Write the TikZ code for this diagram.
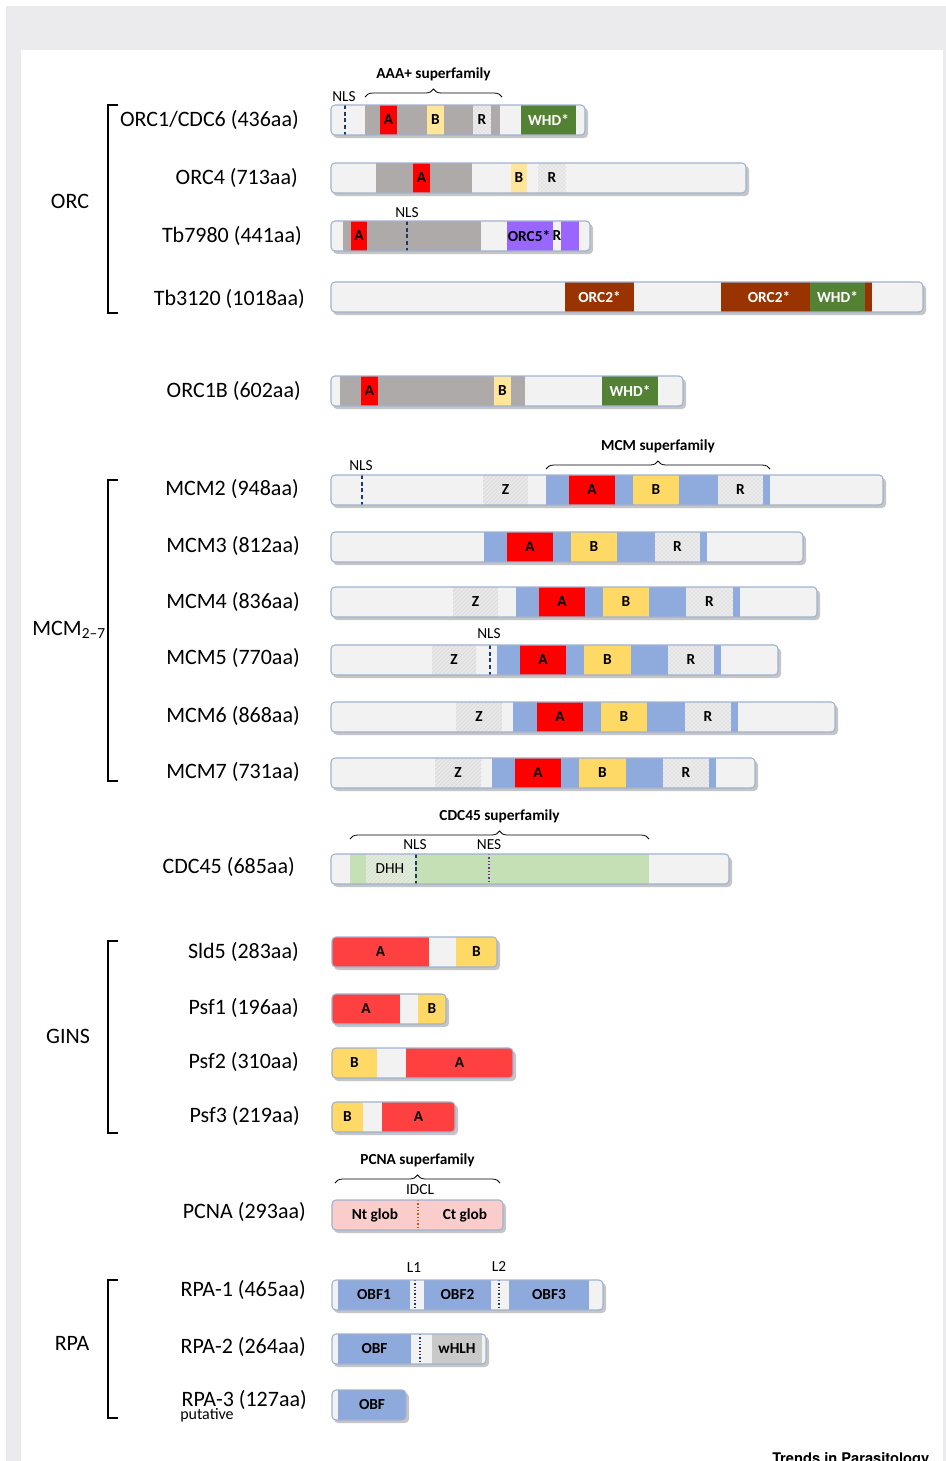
\documentclass[tikz,border=0pt]{standalone}
\usepackage{fontspec}
\setmainfont{Carlito}
\newfontfamily\herosfont{TeX Gyre Heros}
\usetikzlibrary{decorations.pathreplacing,patterns}

\definecolor{barfill}{RGB}{242,242,242}
\definecolor{barline}{RGB}{160,178,208}
\definecolor{aaagray}{RGB}{174,170,170}
\definecolor{motifA}{RGB}{255,0,0}
\definecolor{motifBl}{RGB}{255,230,153}
\definecolor{motifB}{RGB}{255,217,102}
\definecolor{whdgreen}{RGB}{84,130,53}
\definecolor{orctwo}{RGB}{153,51,0}
\definecolor{orcfive}{RGB}{153,102,255}
\definecolor{mcmblue}{RGB}{143,170,220}
\definecolor{ginsred}{RGB}{255,64,64}
\definecolor{cdcgreen}{RGB}{197,224,180}
\definecolor{pcnapink}{RGB}{250,204,204}
\definecolor{rpablue}{RGB}{142,169,219}
\definecolor{hlhgray}{RGB}{201,201,201}
\definecolor{nlsblue}{RGB}{31,56,100}
\definecolor{nespurple}{RGB}{112,48,160}
\definecolor{idclorange}{RGB}{197,90,17}
\definecolor{framegray}{RGB}{235,235,237}

\tikzset{
	plab/.style={anchor=east, inner sep=0pt, font=\fontsize{16.5}{19}\selectfont},
	glab/.style={inner sep=0pt, font=\fontsize{16.5}{19}\selectfont},
	dlab/.style={inner sep=0pt, font=\bfseries\fontsize{11.5}{13}\selectfont},
	slab/.style={inner sep=0pt, font=\fontsize{11.5}{13}\selectfont},
	nls/.style={nlsblue, line width=1.3pt, dash pattern=on 3pt off 2pt},
	nes/.style={nespurple, line width=1.2pt, dash pattern=on 1pt off 1.5pt},
	idcl/.style={idclorange, line width=1.2pt, dash pattern=on 1pt off 1.5pt},
	ldot/.style={nlsblue, line width=1.2pt, dash pattern=on 1pt off 1.5pt},
	rdom/.style={fill=black!8, postaction={pattern=crosshatch dots, pattern color=black!20}},
	zdom/.style={fill=black!9, postaction={pattern=north east lines, pattern color=black!15}},
	dhhdom/.style={fill=cdcgreen!55!white, postaction={pattern=north east lines, pattern color=black!15}}
}

% bar: (y:x1:x2){domains}
\def\protein(#1:#2:#3)#4{%
	\def\cy{#1}%
	\fill[black!45, opacity=.5, rounded corners=3pt] ({#2+2},{#1-12}) rectangle ({#3+3},{#1+18});
	\begin{scope}
		\clip[rounded corners=3pt] (#2,{#1-15}) rectangle (#3,{#1+15});
		\fill[barfill] (#2,{#1-15}) rectangle (#3,{#1+15});
		#4
	\end{scope}
	\draw[barline, line width=0.8pt, rounded corners=3pt] (#2,{#1-15}) rectangle (#3,{#1+15});
}
\def\dom[#1](#2:#3)#4{%
	\fill[#1] (#2,{\cy-15}) rectangle (#3,{\cy+15});
	\node[dlab] at ({(#2+#3)/2},\cy) {#4};
}
\def\dlab(#1)#2{\node[dlab] at (#1,\cy) {#2};}
\def\site(#1)[#2]{\draw[#2] (#1,{\cy-15}) -- (#1,{\cy+15});}
\def\bracket(#1:#2){\draw[line width=1.4pt] (118,#1) -- (108,#1) -- (108,#2) -- (118,#2);}
\def\superfam(#1:#2:#3)#4{%
	\draw[line width=0.6pt, decorate, decoration={brace, amplitude=6pt}] (#1,#3) -- (#2,#3);
	\node[dlab] at ({(#1+#2)/2},{#3-23}) {#4};
}

\begin{document}
\begin{tikzpicture}[x=0.75pt, y=-0.75pt]
	\useasboundingbox (0,0) rectangle (946,1461);
	\fill[framegray] (6,6) rectangle (946,1461);
	\fill[white] (21,50) rectangle (943,1461);
	
	%%%%% ORC %%%%%
	\bracket(105:313)
	\node[glab] (orc) at (70,201) {ORC};
	
	\superfam(365:502:97){AAA+ superfamily}
	\node[slab] (nls1) at (344,97) {NLS};
	\node[plab] (orc1) at (299,120) {ORC1/CDC6 (436aa)};
	\protein(120:331:585){
		\dom[aaagray](365:500){}
		\dom[motifA](380:397){A}
		\dom[motifBl](427:444){B}
		\dom[rdom](473:491){R}
		\dom[whdgreen](521:576){\textcolor{white}{WHD*}}
		\site(345)[nls]
	}
	
	\node[plab] (orc4) at (298,178) {ORC4 (713aa)};
	\protein(178:331:746){
		\dom[aaagray](376:472){}
		\dom[motifA](413:430){A}
		\dom[motifBl](511:527){B}
		\dom[rdom](538:566){R}
	}
	
	\node[slab] (nls2) at (407,213) {NLS};
	\node[plab] (tb7980) at (302,236) {Tb7980 (441aa)};
	\protein(236:331:590){
		\dom[aaagray](343:481){}
		\dom[motifA](351:367){A}
		\dom[orcfive](507:579){}
		\dom[barfill](553:561){R}
		\dlab(529){ORC5*}
		\site(407)[nls]
	}
	
	\node[plab] (tb3120) at (305,299) {Tb3120 (1018aa)};
	\protein(297:331:923){
		\dom[orctwo](565:634){\textcolor{white}{ORC2*}}
		\dom[orctwo](721:872){}
		\dlab(769){\textcolor{white}{ORC2*}}
		\dom[whdgreen](810:865){\textcolor{white}{WHD*}}
	}
	
	\node[plab] (orc1b) at (301,391) {ORC1B (602aa)};
	\protein(391:331:683){
		\dom[aaagray](340:525){}
		\dom[motifA](361:378){A}
		\dom[motifBl](494:511){B}
		\dom[whdgreen](602:658){\textcolor{white}{WHD*}}
	}
	
	%%%%% MCM %%%%%
	\bracket(480:781)
	\node[glab, anchor=east] (mcm) at (106,630) {MCM\textsubscript{2–7}};
	
	\superfam(546:770:469){MCM superfamily}
	\node[slab] (nls3) at (361,466) {NLS};
	\node[plab] (mcm2) at (299,489) {MCM2 (948aa)};
	\protein(490:331:883){
		\dom[zdom](483:528){Z}
		\dom[mcmblue](546:770){}
		\dom[motifA](569:615){A}
		\dom[motifB](633:679){B}
		\dom[rdom](718:763){R}
		\site(362)[nls]
	}
	
	\node[plab] (mcm3) at (300,546) {MCM3 (812aa)};
	\protein(547:331:803){
		\dom[mcmblue](484:707){}
		\dom[motifA](507:553){A}
		\dom[motifB](571:617){B}
		\dom[rdom](655:700){R}
	}
	
	\node[plab] (mcm4) at (300,602) {MCM4 (836aa)};
	\protein(602:331:817){
		\dom[zdom](453:498){Z}
		\dom[mcmblue](516:740){}
		\dom[motifA](539:585){A}
		\dom[motifB](603:649){B}
		\dom[rdom](686:733){R}
	}
	
	\node[slab] (nls4) at (489,634) {NLS};
	\node[plab] (mcm5) at (300,658) {MCM5 (770aa)};
	\protein(660:331:778){
		\dom[zdom](432:476){Z}
		\dom[mcmblue](497:721){}
		\dom[motifA](520:566){A}
		\dom[motifB](584:631){B}
		\dom[rdom](668:714){R}
		\site(490)[nls]
	}
	
	\node[plab] (mcm6) at (300,716) {MCM6 (868aa)};
	\protein(717:331:835){
		\dom[zdom](456:502){Z}
		\dom[mcmblue](513:738){}
		\dom[motifA](537:583){A}
		\dom[motifB](601:647){B}
		\dom[rdom](685:731){R}
	}
	
	\node[plab] (mcm7) at (300,772) {MCM7 (731aa)};
	\protein(773:331:755){
		\dom[zdom](435:481){Z}
		\dom[mcmblue](492:716){}
		\dom[motifA](515:561){A}
		\dom[motifB](579:626){B}
		\dom[rdom](663:709){R}
	}
	
	%%%%% CDC45 %%%%%
	\superfam(350:649:839){CDC45 superfamily}
	\node[slab] (nls5) at (415,845) {NLS};
	\node[slab] (nes) at (489,845) {NES};
	\node[plab] (cdc45) at (295,867) {CDC45 (685aa)};
	\protein(869:331:729){
		\dom[cdcgreen](350:649){}
		\dom[dhhdom](366:415){}
		\node[slab] at (390,\cy) {DHH};
		\site(416)[nls]
		\site(489)[nes]
	}
	
	%%%%% GINS %%%%%
	\bracket(941:1133)
	\node[glab] (gins) at (68,1036) {GINS};
	
	\node[plab] (sld5) at (299,952) {Sld5 (283aa)};
	\protein(952:332:497){
		\dom[ginsred](332:429){A}
		\dom[motifB](456:497){B}
	}
	\node[plab] (psf1) at (299,1008) {Psf1 (196aa)};
	\protein(1009:332:446){
		\dom[ginsred](332:400){A}
		\dom[motifB](418:446){B}
	}
	\node[plab] (psf2) at (299,1062) {Psf2 (310aa)};
	\protein(1063:332:513){
		\dom[motifB](332:377){B}
		\dom[ginsred](406:513){A}
	}
	\node[plab] (psf3) at (300,1116) {Psf3 (219aa)};
	\protein(1117:332:455){
		\dom[motifB](332:363){B}
		\dom[ginsred](382:455){A}
	}
	
	%%%%% PCNA %%%%%
	\superfam(335:500:1183){PCNA superfamily}
	\node[slab] (idcl) at (420,1190) {IDCL};
	\node[plab] (pcna) at (306,1212) {PCNA (293aa)};
	\protein(1215:332:503){
		\dom[pcnapink](332:503){}
		\dlab(375){Nt glob}
		\dlab(465){Ct glob}
		\site(418)[idcl]
	}
	
	%%%%% RPA %%%%%
	\bracket(1280:1418)
	\node[glab] (rpa) at (72,1343) {RPA};
	
	\node[slab] (l1) at (414,1268) {L1};
	\node[slab] (l2) at (499,1267) {L2};
	\node[plab] (rpa1) at (306,1290) {RPA-1 (465aa)};
	\protein(1295:332:603){
		\dom[rpablue](338:410){OBF1}
		\dom[rpablue](424:491){OBF2}
		\dom[rpablue](509:589){OBF3}
		\site(415)[ldot]
		\site(499)[ldot]
	}
	\node[plab] (rpa2) at (306,1347) {RPA-2 (264aa)};
	\protein(1349:332:486){
		\dom[rpablue](338:411){OBF}
		\dom[hlhgray](432:482){wHLH}
		\site(420)[ldot]
	}
	\node[plab] (rpa3) at (307,1400) {RPA-3 (127aa)};
	\node[anchor=west, inner sep=0pt, font=\fontsize{12}{14}\selectfont] (putative) at (180,1415) {putative};
	\protein(1405:332:406){
		\dom[rpablue](338:406){OBF}
	}
	
	\node[anchor=north west, inner sep=0pt, font=\herosfont\bfseries\fontsize{11}{13}\selectfont] (journal) at (772,1452) {Trends in Parasitology};
\end{tikzpicture}
\end{document}
